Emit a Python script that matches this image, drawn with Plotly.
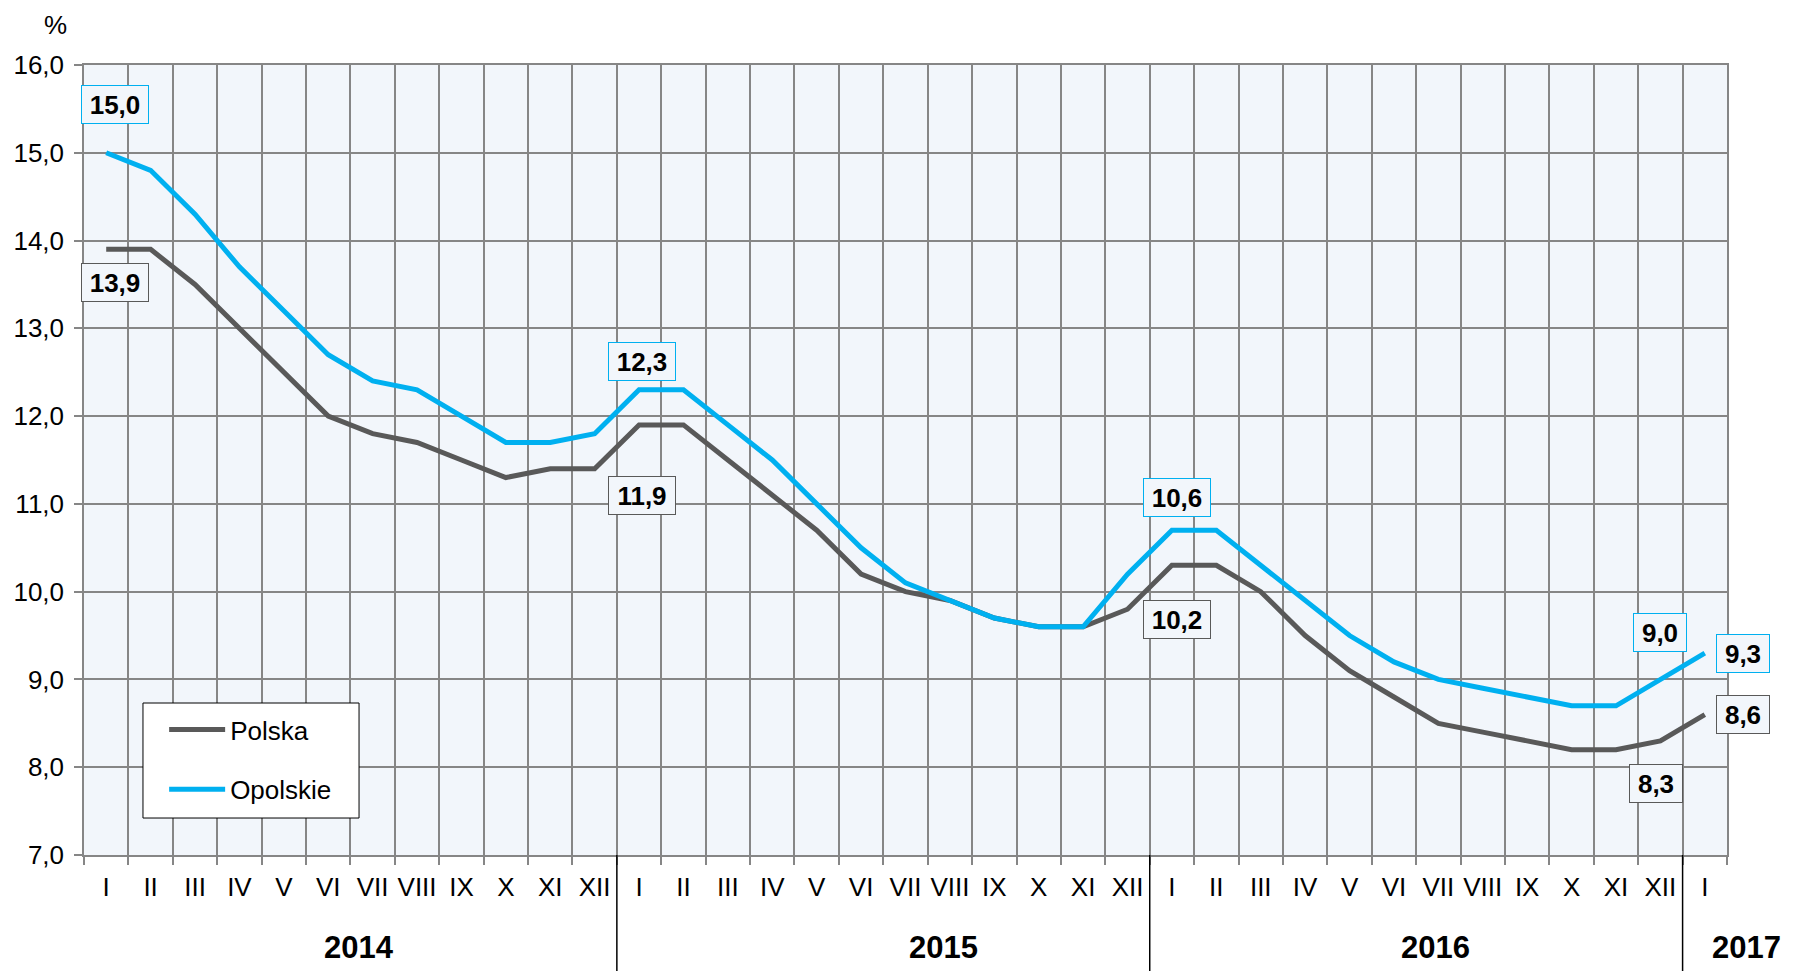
import plotly.graph_objects as go

# ---- data ----
months = ["I", "II", "III", "IV", "V", "VI", "VII", "VIII", "IX", "X", "XI", "XII"] * 3 + ["I"]
years = ["2014", "2015", "2016", "2017"]

polska = [13.9, 13.9, 13.5, 13.0, 12.5, 12.0, 11.8, 11.7, 11.5, 11.3, 11.4, 11.4,
          11.9, 11.9, 11.5, 11.1, 10.7, 10.2, 10.0, 9.9, 9.7, 9.6, 9.6, 9.8,
          10.3, 10.3, 10.0, 9.5, 9.1, 8.8, 8.5, 8.4, 8.3, 8.2, 8.2, 8.3,
          8.6]
opolskie = [15.0, 14.8, 14.3, 13.7, 13.2, 12.7, 12.4, 12.3, 12.0, 11.7, 11.7, 11.8,
            12.3, 12.3, 11.9, 11.5, 11.0, 10.5, 10.1, 9.9, 9.7, 9.6, 9.6, 10.2,
            10.7, 10.7, 10.3, 9.9, 9.5, 9.2, 9.0, 8.9, 8.8, 8.7, 8.7, 9.0,
            9.3]

# data labels as printed on the chart
opolskie_label_idx = [0, 12, 24, 35, 36]
opolskie_label_txt = ["15,0", "12,3", "10,6", "9,0", "9,3"]
polska_label_idx = [0, 12, 24, 35, 36]
polska_label_txt = ["13,9", "11,9", "10,2", "8,3", "8,6"]

# ---- styling / layout config ----
C_POL = "#595959"
C_OPO = "#00b0f0"
GRID = "#868686"
BG = "#f2f6fb"
FONT = "Liberation Sans, Arial, sans-serif"

opo_shifts = [(9, 48), (3, 28), (5, 33), (0, 47), (38, 0)]
pol_shifts = [(9, -33), (3, -71), (5, -54), (-4, -43), (38, 0)]
year_pos = [(5.7, 0), (18.86, 0), (29.94, 0), (36, 42)]

n = len(months)
xs = list(range(n))

fig = go.Figure()
fig.add_trace(go.Scatter(x=xs, y=polska, mode="lines", name="Polska",
                         line=dict(color=C_POL, width=5), legendgroup="a"))
fig.add_trace(go.Scatter(x=xs, y=opolskie, mode="lines", name="Opolskie",
                         line=dict(color=C_OPO, width=5), legendgroup="b"))

annotations = []
def add_labels(idx, txt, shifts, series, color):
    for i, t, (dx, dy) in zip(idx, txt, shifts):
        w = 58 if len(t) >= 4 else 44
        annotations.append(dict(x=i, y=series[i], xref="x", yref="y", text=f"<b>{t}</b>",
                                showarrow=False, xshift=dx, yshift=dy,
                                width=w, height=29, align="center", valign="middle",
                                font=dict(family=FONT, size=26, color="#000000"),
                                bordercolor=color, borderwidth=1, borderpad=4, bgcolor=BG))

add_labels(opolskie_label_idx, opolskie_label_txt, opo_shifts, opolskie, C_OPO)
add_labels(polska_label_idx, polska_label_txt, pol_shifts, polska, C_POL)

for yr, (px, dx) in zip(years, year_pos):
    annotations.append(dict(x=px, y=-0.1165, xref="x", yref="paper", text=f"<b>{yr}</b>",
                            showarrow=False, xshift=dx, xanchor="center", yanchor="middle",
                            font=dict(family=FONT, size=31, color="#000000")))
annotations.append(dict(x=-0.0175, y=1.0722, xref="paper", yref="paper", text="%",
                        showarrow=False, xanchor="center", yanchor="top",
                        font=dict(family=FONT, size=26, color="#000000")))

shapes = []
for b in [11.5, 23.5, 35.5]:
    shapes.append(dict(type="line", xref="x", yref="paper", x0=b, x1=b, y0=0, y1=-0.147,
                       line=dict(color="#000000", width=1.5)))
# legend frame
shapes.append(dict(type="rect", xref="paper", yref="paper", x0=0.0359, x1=0.1674,
                   y0=0.0468, y1=0.1924, fillcolor="white",
                   line=dict(color="#000000", width=1), layer="above"))

boundaries = [i - 0.5 for i in range(n + 1)]

fig.update_layout(
    width=1790, height=963, autosize=False,
    margin=dict(l=76, r=71, t=57, b=116, autoexpand=False),
    paper_bgcolor="white", plot_bgcolor=BG,
    separators=", ",
    font=dict(family=FONT, size=24, color="#000000"),
    showlegend=True,
    legend=dict(x=0.0366, y=0.1886, xanchor="left", yanchor="top",
                bgcolor="rgba(0,0,0,0)", borderwidth=0,
                font=dict(family=FONT, size=26, color="#000000"),
                tracegroupgap=23, itemwidth=56, indentation=20),
    annotations=annotations,
    shapes=shapes,
    xaxis=dict(range=[-0.5, n - 0.5], tickmode="array", tickvals=xs, ticktext=months,
               ticks="", showgrid=False, zeroline=False, automargin=False,
               showline=True, linecolor=GRID, linewidth=1.5, mirror=True,
               tickfont=dict(family=FONT, size=26, color="#000000"),
               ticklabelstandoff=8,
               minor=dict(tickmode="array", tickvals=boundaries, showgrid=True,
                          gridcolor=GRID, gridwidth=1.5, ticks="outside", ticklen=8,
                          tickcolor=GRID, tickwidth=1.5)),
    yaxis=dict(range=[7, 16], dtick=1, tick0=7, tickformat=".1f", automargin=False,
               showgrid=True, gridcolor=GRID, gridwidth=1.5, zeroline=False,
               showline=True, linecolor=GRID, linewidth=1.5, mirror=True,
               ticks="outside", ticklen=8, tickcolor=GRID, tickwidth=1.5,
               ticklabelstandoff=5,
               tickfont=dict(family=FONT, size=26, color="#000000")),
)

fig.write_html("out.html")
